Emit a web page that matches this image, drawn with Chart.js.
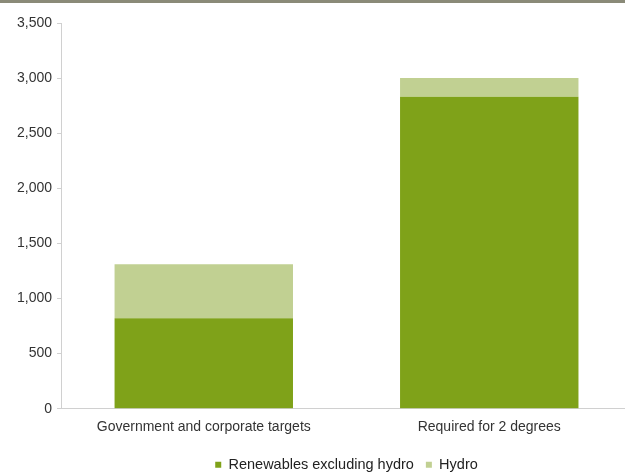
<!DOCTYPE html>
<html>
<head>
<meta charset="utf-8">
<script src="https://cdn.jsdelivr.net/npm/chart.js@4"></script>
<style>
  html, body { margin: 0; padding: 0; background: #fff; overflow: hidden; }
  #bar { height: 3px; width: 625px; background: #8a8a78; }
  #wrap { width: 632px; height: 479px; }
</style>
</head>
<body>
<div id="bar"></div>
<div id="wrap"><canvas id="chart"></canvas></div>
<script>
// categories and series
const categories = ["Government and corporate targets", "Required for 2 degrees"];
const renewables = [820, 2830];
const hydro = [490, 170];

function drawChart(){
  const ctx = document.getElementById("chart");
  Chart.defaults.font.family = "'Liberation Sans', Arial, sans-serif";
  Chart.defaults.color = "#333";

  new Chart(ctx, {
    type: 'bar',
    data: {
      labels: categories,
      datasets: [{
        label: "Renewables excluding hydro",
        data: renewables,
        backgroundColor: "#7fa219"
      }, {
        label: "Hydro",
        data: hydro,
        backgroundColor: "#c1d092"
      }]
    },
    options: {
      responsive: true,
      maintainAspectRatio: false,
      animation: false,
      layout: { padding: { top: 20, right: 0, left: 12, bottom: 0 } },
      datasets: { bar: { barPercentage: 0.625, categoryPercentage: 1 } },
      plugins: {
        tooltip: { enabled: false },
        legend: {
          position: 'bottom',
          fullSize: false,
          labels: {
            boxWidth: 6,
            boxHeight: 6,
            padding: 12,
            font: { size: 14.5 },
            color: "#222"
          }
        }
      },
      scales: {
        x: {
          stacked: true,
          grid: { display: false, drawTicks: false },
          border: { color: "#d0d0d0" },
          ticks: { font: { size: 14 }, color: "#333", padding: 10 }
        },
        y: {
          stacked: true,
          min: 0,
          max: 3500,
          grid: { drawOnChartArea: false, drawTicks: true, tickLength: 4, color: "#d0d0d0" },
          border: { color: "#d0d0d0" },
          ticks: { stepSize: 500, font: { size: 14 }, color: "#333", padding: 5 }
        }
      }
    }
  });
}

window.addEventListener('load', drawChart);
</script>
</body>
</html>
